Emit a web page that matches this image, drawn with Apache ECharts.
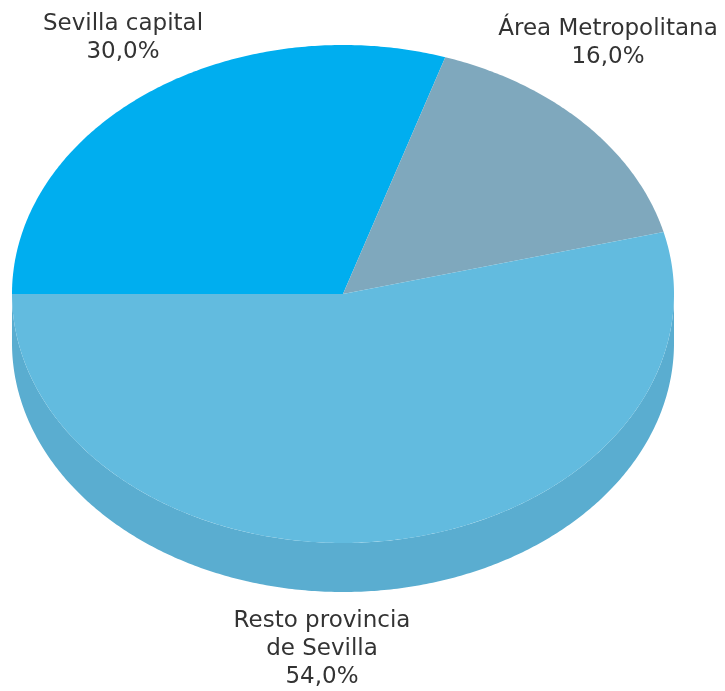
<!DOCTYPE html>
<html>
<head>
<meta charset="utf-8">
<script src="https://cdn.jsdelivr.net/npm/echarts@6/dist/echarts.min.js"></script>
<style>html,body{margin:0;padding:0;background:#fff}#c{width:725px;height:691px}</style>
</head>
<body>
<div id="c"></div>
<script>
const categories = ['Sevilla capital', 'Área Metropolitana', 'Resto provincia\nde Sevilla'];
const values = [30.0, 16.0, 54.0];
const colors = ['#00AEEF', '#7FA8BD', '#62BBDF'];
const sideColor = '#5AADD0';

// layout (styling only)
const CX = 343, CY = 294, RX = 331, RY = 249, DEPTH = 49;
const labelPos = [[123, 10], [608, 15], [322, 607]];

const total = values.reduce((a, b) => a + b, 0);
function pt(a, dy) { return [CX + RX * Math.cos(a), CY - RY * Math.sin(a) + (dy || 0)]; }
function arc(a0, a1, dy) {
  const n = Math.max(2, Math.ceil(Math.abs(a1 - a0) / 0.01));
  const out = [];
  for (let k = 0; k <= n; k++) out.push(pt(a0 + (a1 - a0) * k / n, dy));
  return out;
}
function fmt(v) { return v.toFixed(1).replace('.', ',') + '%'; }

const chart = echarts.init(document.getElementById('c'), null, { renderer: 'canvas' });
chart.setOption({
  animation: false,
  series: [{
    type: 'custom',
    coordinateSystem: 'none',
    data: values.map((v, i) => [i, v]),
    renderItem: function (params, api) {
      const i = params.dataIndex;
      let start = Math.PI;
      for (let j = 0; j < i; j++) start -= values[j] / total * 2 * Math.PI;
      const end = start - api.value(1) / total * 2 * Math.PI;
      const children = [];
      const lo = Math.max(end, -Math.PI), hi = Math.min(start, 0);
      if (hi > lo) {
        const top = arc(hi, lo, 0);
        const bot = arc(lo, hi, DEPTH);
        children.push({ type: 'polygon', shape: { points: top.concat(bot) }, style: { fill: sideColor } });
      }
      children.push({ type: 'polygon', shape: { points: [[CX, CY]].concat(arc(start, end, 0)) }, style: { fill: colors[i] } });
      children.push({
        type: 'text',
        x: labelPos[i][0], y: labelPos[i][1],
        style: {
          text: categories[i] + '\n' + fmt(values[i]),
          fill: '#333',
          font: '23px "DejaVu Sans"',
          lineHeight: 28,
          align: 'center',
          verticalAlign: 'top'
        }
      });
      return { type: 'group', children: children };
    }
  }]
});
</script>
</body>
</html>
